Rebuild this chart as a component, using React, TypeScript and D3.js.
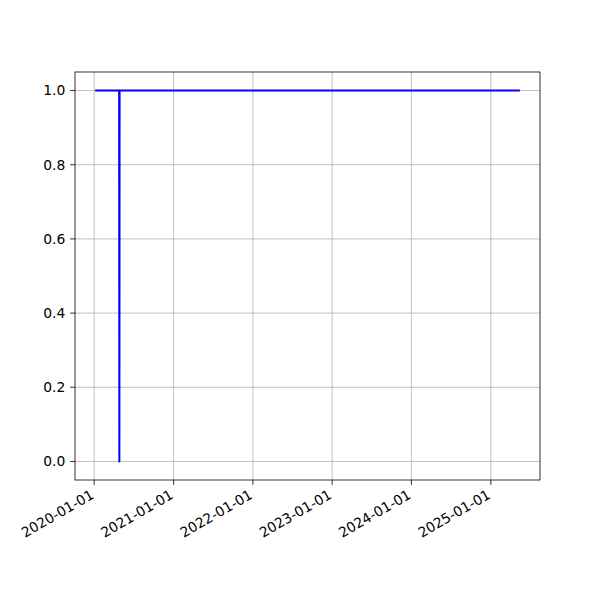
import React from "react";
import * as d3 from "d3";

const dates = ["2020-01-10", "2020-04-25", "2020-04-26", "2020-04-27", "2025-05-10"];
const values = [1, 1, 0, 1, 1];
const xTickLabels = ["2020-01-01", "2021-01-01", "2022-01-01", "2023-01-01", "2024-01-01", "2025-01-01"];
const yTicks = [0.0, 0.2, 0.4, 0.6, 0.8, 1.0];

const W = 600, H = 600;
const L = 75, R = 540, T = 72, B = 480;
const FS = 13.89;
const TICK = 4.86;

export default function App() {
  const parse = d3.utcParse("%Y-%m-%d");
  const pts = dates.map((d, i) => ({ x: parse(d) as Date, y: values[i] }));
  const [x0, x1] = d3.extent(pts, (p) => p.x) as [Date, Date];
  const span = +x1 - +x0;
  const x = d3.scaleUtc().domain([new Date(+x0 - span * 0.05), new Date(+x1 + span * 0.05)]).range([L, R]);
  const y = d3.scaleLinear().domain([-0.05, 1.05]).range([B, T]);
  const line = d3.line<{ x: Date; y: number }>().x((p) => x(p.x)).y((p) => y(p.y));
  const xt = xTickLabels.map((s) => ({ d: parse(s) as Date, s }));
  return (
    <svg width={W} height={H} style={{ position: "absolute", left: 0, top: 0, background: "#fff" }} fontFamily="DejaVu Sans">
      <rect x={0} y={0} width={W} height={H} fill="#fff" />
      {xt.map((t) => (
        <line key={"gx" + t.s} x1={x(t.d)} x2={x(t.d)} y1={T} y2={B} stroke="#b0b0b0" strokeWidth={0.8} />
      ))}
      {yTicks.map((v) => (
        <line key={"gy" + v} x1={L} x2={R} y1={y(v)} y2={y(v)} stroke="#b0b0b0" strokeWidth={0.8} />
      ))}
      <path d={line(pts) || ""} fill="none" stroke="#0000ff" strokeWidth={2} strokeLinejoin="round" strokeLinecap="square" />
      <rect x={L} y={T} width={R - L} height={B - T} fill="none" stroke="#000" strokeWidth={0.8} />
      {xt.map((t) => (
        <g key={"tx" + t.s}>
          <line x1={x(t.d)} x2={x(t.d)} y1={B} y2={B + TICK} stroke="#000" strokeWidth={0.8} />
          <text
            transform={`translate(${x(t.d) + 2},${B + 20}) rotate(-30)`}
            textAnchor="end"
            fontSize={FS}
            dy="-0.2em"
            fill="#000"
          >
            {t.s}
          </text>
        </g>
      ))}
      {yTicks.map((v) => (
        <g key={"ty" + v}>
          <line x1={L - TICK} x2={L} y1={y(v)} y2={y(v)} stroke="#000" strokeWidth={0.8} />
          <text x={L - TICK - 4.86} y={y(v)} dy="0.35em" textAnchor="end" fontSize={FS} fill="#000">
            {v.toFixed(1)}
          </text>
        </g>
      ))}
    </svg>
  );
}
